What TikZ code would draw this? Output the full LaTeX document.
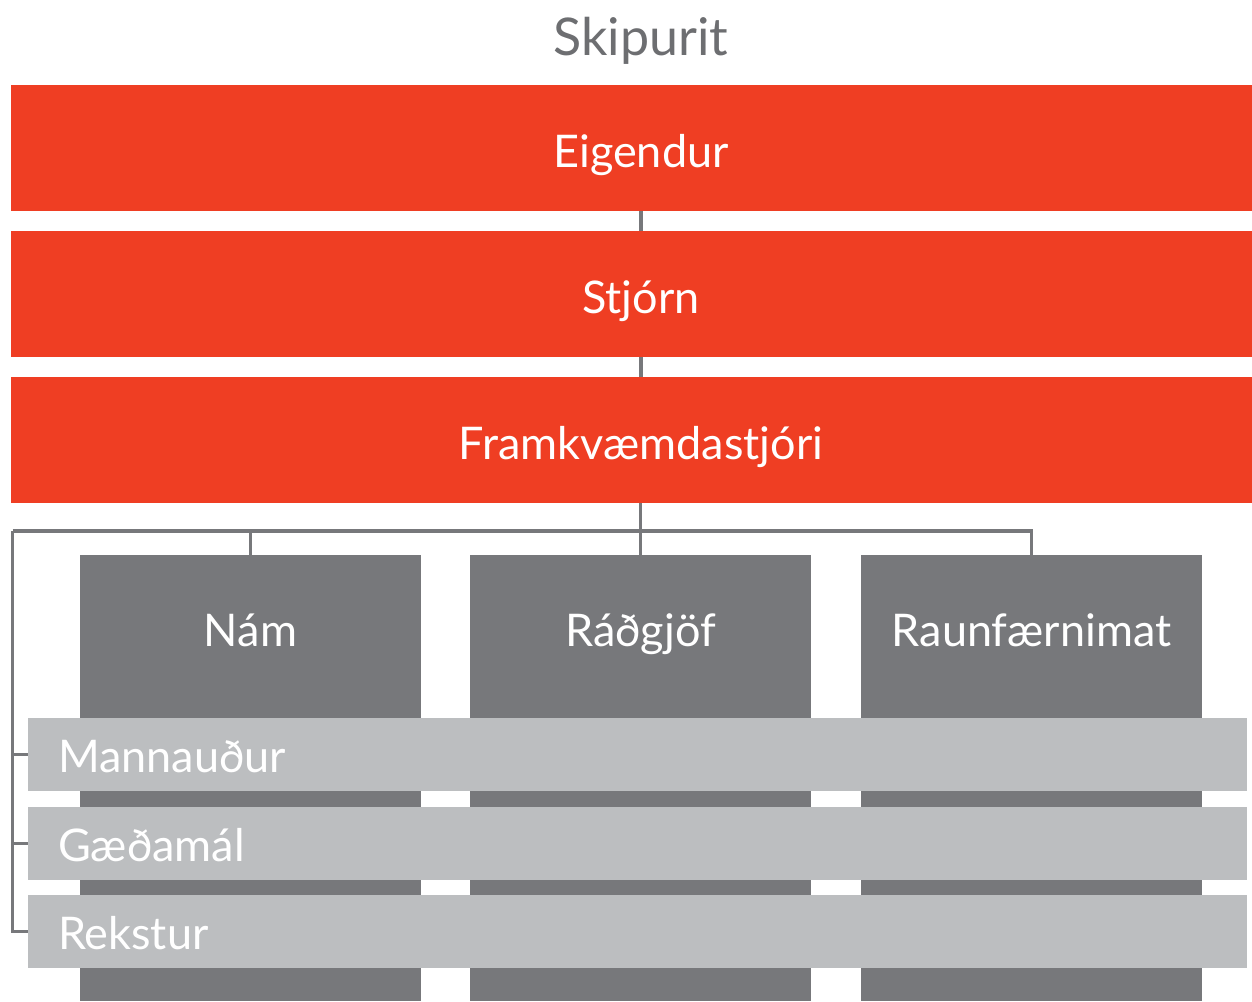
\documentclass[tikz,border=0pt]{standalone}
\usepackage{fontspec}
\setmainfont{Lato}
\usetikzlibrary{positioning}
\definecolor{skred}{HTML}{EF3E23}
\definecolor{skdark}{HTML}{77787B}
\definecolor{sklight}{HTML}{BCBEC0}
\definecolor{sktitle}{HTML}{6D6E71}
\tikzset{every node/.style={inner sep=0pt, outer sep=0pt, font=\fontsize{45}{54}\selectfont},
  topbox/.style={rectangle, fill=skred, text=white, minimum width=1260pt, minimum height=126pt, text height=38pt, text depth=0pt},
  deptbox/.style={rectangle, fill=skdark, minimum width=341pt, minimum height=446pt},
  deptlabel/.style={text=white, anchor=base},
  staffbar/.style={rectangle, fill=sklight, text=white, minimum width=1219pt, minimum height=73pt, text width=1159pt, align=left, text height=35pt, text depth=0pt},
  link/.style={skdark, line width=3.5pt}}

\begin{document}
\begin{tikzpicture}[x=1pt,y=-1pt]
   \useasboundingbox (0,0) rectangle (1252,1001);
   \node[text=sktitle, anchor=base, font=\fontsize{52}{60}\selectfont] (title) at (641,55) {Skipurit};
   \node[topbox] (eig)  at (641,148) {Eigendur};
   \node[topbox] (stj)  at (641,294) {Stjórn};
   \node[topbox] (fram) at (641,440) {Framkvæmdastjóri};
   \coordinate (bus) at (12.5,531);
   \draw[link] (eig) -- (stj);
   \draw[link] (stj) -- (fram);
   \node[deptbox] (nam)  at (250.5,778) {};
   \node[deptbox] (rad)  at (640.5,778) {};
   \node[deptbox] (raun) at (1031.5,778) {};
   \draw[link] (fram.south -| rad.north) -- (rad.north);
   \draw[link] (bus) -| (raun.north);
   \draw[link] (nam.north |- bus) -- (nam.north);
   \node[deptlabel] (namT)  at (250.5,646) {Nám};
   \node[deptlabel] (radT)  at (640.5,646) {Ráðgjöf};
   \node[deptlabel] (raunT) at (1031.5,646) {Raunfærnimat};
   \node[staffbar] (man) at (637.5,754.5) {Mannauður};
   \node[staffbar] (gae) at (637.5,843.5) {Gæðamál};
   \node[staffbar] (rek) at (637.5,931.5) {Rekstur};
   \draw[link] (bus) |- (rek.west);
   \draw[link] (bus |- man.west) -- (man.west);
   \draw[link] (bus |- gae.west) -- (gae.west);
\end{tikzpicture}
\end{document}
